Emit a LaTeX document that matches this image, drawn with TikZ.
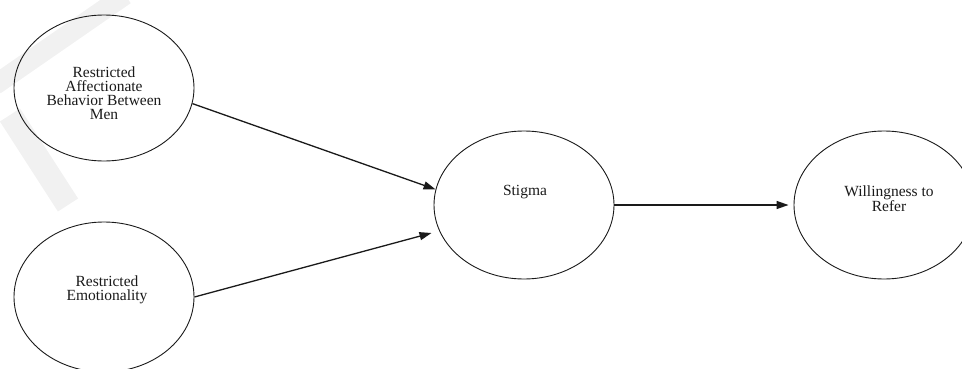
\documentclass[tikz,border=0pt]{standalone}
\usepackage{fontspec}
\setmainfont{Liberation Serif}
\usetikzlibrary{arrows.meta,shapes.geometric}
\definecolor{SMInk}{HTML}{1A1A1A}
\definecolor{SMMark}{HTML}{F1F1F1}
\tikzset{
  construct/.style={ellipse,draw=SMInk,line width=0.9pt,minimum width=180pt,
                    minimum height=148pt,inner sep=0pt},
  effect/.style={-{Triangle[length=12pt,width=8pt]},SMInk,line width=1.3pt},
  caption/.style={text=SMInk,font=\fontsize{15.5}{14}\selectfont,align=center},
  watermark/.style={SMMark,line width=20pt},
}
\begin{document}
\begin{tikzpicture}[x=1pt,y=1pt]
    \useasboundingbox (0,0) rectangle (962,368);
    \draw[watermark] (125,373) -- (-5,283);
    \draw[watermark,line width=24pt] (10,253) -- (68,163);

    \node[construct,minimum height=146pt] (affect) at (104,280) {};
    \node[construct,minimum height=150pt] (emot) at (104,71) {};
    \node[construct] (stigma) at (524,163) {};
    \node[construct] (refer) at (884,163) {};

    \node[caption] (affecttext) at (104,275) {Restricted\\Affectionate\\Behavior Between\\Men};
    \node[caption] (emottext) at (107,78) {Restricted\\Emotionality};
    \node[caption] (stigmatext) at (525,176) {Stigma};
    \node[caption] (refertext) at (889,169) {Willingness to\\Refer};

    \draw[effect] (affect.-10) -- (stigma.170);
    \draw[effect,shorten >=8pt] (emot.east) -- (stigma.197);
    \draw[effect,shorten >=5pt] (stigma) -- (refer);
  \end{tikzpicture}
\end{document}
